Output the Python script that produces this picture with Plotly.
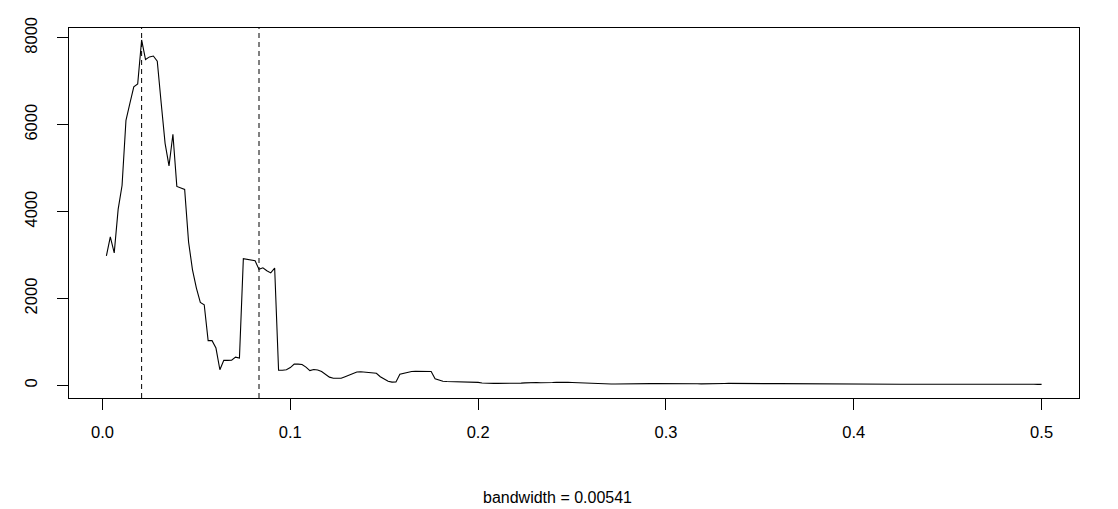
import plotly.graph_objects as go

# Frequency grid (k/480, k = 1..240) and smoothed periodogram values
n_obs = 480
freq = [k / n_obs for k in range(1, 241)]

spec_1_50 = [2980, 3420, 3050, 4050, 4600, 6100, 6490, 6870, 6940, 7950,
             7500, 7560, 7580, 7460, 6500, 5570, 5050, 5780, 4580, 4550,
             4510, 3300, 2660, 2240, 1910, 1855, 1030, 1030, 860, 360,
             575, 575, 580, 650, 630, 2915, 2900, 2880, 2870, 2670,
             2705, 2640, 2590, 2700, 350, 350, 360, 410, 490, 490]
spec_51_100 = [480, 420, 340, 365, 355, 320, 260, 190, 165, 160,
               165, 200, 240, 280, 310, 315, 305, 300, 290, 280,
               200, 140, 95, 75, 80, 255, 275, 305, 320, 325,
               325, 325, 325, 320, 150, 120, 95, 88, 85, 84,
               82, 80, 80, 82, 78, 70, 55, 48, 46, 46]
spec_101_150 = [46, 45, 45, 46, 47, 48, 52, 58, 65, 68,
                66, 62, 60, 62, 66, 72, 76, 74, 70, 66,
                62, 58, 50, 40, 35, 32, 30, 30, 31, 32,
                32, 31, 30, 30, 31, 32, 34, 36, 38, 40,
                41, 42, 43, 44, 45, 46, 46, 45, 44, 42]
spec_151_200 = [40, 38, 36, 35, 36, 38, 40, 42, 44, 46,
                47, 48, 48, 47, 46, 45, 44, 43, 42, 42,
                41, 40, 40, 39, 38, 38, 37, 36, 36, 37,
                38, 38, 37, 36, 35, 34, 33, 32, 32, 31,
                31, 30, 30, 30, 31, 31, 32, 32, 31, 30]
spec_201_240 = [30, 29, 29, 28, 28, 29, 30, 30, 29, 28,
                28, 27, 27, 28, 28, 29, 29, 28, 27, 27,
                26, 26, 27, 27, 28, 28, 27, 26, 25, 25,
                26, 26, 25, 25, 24, 24, 25, 25, 24, 24]
spectrum = spec_1_50 + spec_51_100 + spec_101_150 + spec_151_200 + spec_201_240

marked_freqs = [1 / 48, 1 / 12]
x_ticks = [0.0, 0.1, 0.2, 0.3, 0.4, 0.5]
x_tick_text = ["0.0", "0.1", "0.2", "0.3", "0.4", "0.5"]
y_ticks = [0, 2000, 4000, 6000, 8000]
y_tick_text = ["0", "2000", "4000", "6000", "8000"]
xlab = "bandwidth = 0.00541"

FONT = "Liberation Sans, Arial, sans-serif"

fig = go.Figure()
fig.add_trace(go.Scatter(x=freq, y=spectrum, mode="lines",
                         line=dict(color="black", width=1.1),
                         hoverinfo="skip", showlegend=False))

for f in marked_freqs:
    fig.add_shape(type="line", xref="x", yref="paper", x0=f, x1=f, y0=0, y1=1,
                  line=dict(color="black", width=1, dash="5px,4px"))

fig.add_annotation(text=xlab, xref="paper", yref="paper", x=0.484, y=-0.268,
                   xanchor="center", yanchor="middle", showarrow=False,
                   font=dict(family=FONT, size=16, color="black"))

fig.update_layout(
    width=1118, height=509,
    margin=dict(l=69, r=39, t=28, b=111, pad=0),
    paper_bgcolor="white", plot_bgcolor="white",
    font=dict(family=FONT, size=16.5, color="black"),
    showlegend=False,
    xaxis=dict(range=[-0.01783, 0.51992], tickmode="array", tickvals=x_ticks,
               ticktext=x_tick_text, ticks="outside", ticklen=11, tickwidth=1,
               tickcolor="black", showgrid=False, zeroline=False,
               showline=True, linecolor="black", linewidth=1, mirror=True,
               ticklabelstandoff=8),
    yaxis=dict(range=[-290, 8225], tickmode="array", tickvals=y_ticks,
               ticktext=y_tick_text, ticks="outside", ticklen=11, tickwidth=1,
               tickcolor="black", showgrid=False, zeroline=False,
               showline=True, linecolor="black", linewidth=1, mirror=True,
               tickangle=-90, ticklabelstandoff=13),
)

fig.write_html("out.html",
               config={"displayModeBar": False, "staticPlot": True},
               post_script="document.body.style.margin='0px';"
                           "document.body.style.overflow='hidden';")
